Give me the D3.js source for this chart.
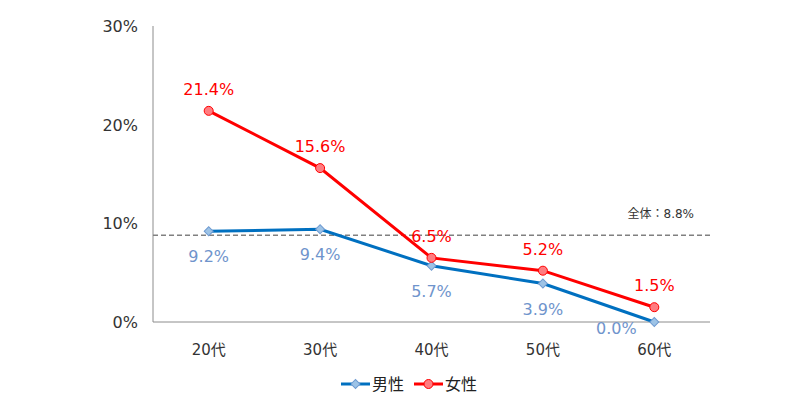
<!DOCTYPE html>
<html>
<head>
<meta charset="utf-8">
<script src="https://cdn.jsdelivr.net/npm/d3@7"></script>
<style>
  body { margin: 0; background: #fff; }
  text { font-family: "DejaVu Sans", "Noto Sans CJK JP", sans-serif; }
</style>
</head>
<body>
<svg id="chart" width="810" height="400"></svg>
<script>
const width = 810, height = 400;

const ages = ["20代", "30代", "40代", "50代", "60代"];
const male = [9.2, 9.4, 5.7, 3.9, 0.0];
const female = [21.4, 15.6, 6.5, 5.2, 1.5];
const overall = 8.8;
const yTicks = [0, 10, 20, 30];

const svg = d3.select("#chart");

const x = d3.scaleBand().domain(ages).range([153, 710]);
const y = d3.scaleLinear().domain([0, 30]).range([322, 26]);
const cx = d => x(d) + x.bandwidth() / 2;

// axes
svg.append("line")
  .attr("x1", 153).attr("x2", 153)
  .attr("y1", y(30)).attr("y2", y(0))
  .attr("stroke", "#8c8c8c").attr("stroke-width", 1);
svg.append("line")
  .attr("x1", 153).attr("x2", 710)
  .attr("y1", y(0)).attr("y2", y(0))
  .attr("stroke", "#8c8c8c").attr("stroke-width", 1);

svg.selectAll(".ytick")
  .data(yTicks)
  .enter().append("text")
  .attr("x", 138)
  .attr("y", d => y(d) + 6)
  .attr("text-anchor", "end")
  .attr("font-size", 16)
  .attr("fill", "#333")
  .text(d => d + "%");

svg.selectAll(".xtick")
  .data(ages)
  .enter().append("text")
  .attr("x", d => cx(d))
  .attr("y", 355)
  .attr("text-anchor", "middle")
  .attr("font-size", 15)
  .attr("fill", "#333")
  .text(d => d);

// overall line
svg.append("line")
  .attr("x1", 153).attr("x2", 710)
  .attr("y1", y(overall)).attr("y2", y(overall))
  .attr("stroke", "#808080").attr("stroke-width", 1.5)
  .attr("stroke-dasharray", "5,3");
svg.append("text")
  .attr("x", 694).attr("y", y(overall) - 17)
  .attr("text-anchor", "end")
  .attr("font-size", 12)
  .attr("fill", "#333")
  .text("全体：" + overall.toFixed(1) + "%");

const line = d3.line()
  .x((d, i) => cx(ages[i]))
  .y(d => y(d));

const diamond = d3.symbol().type(d3.symbolSquare).size(40);

// male series
svg.append("path")
  .datum(male)
  .attr("fill", "none")
  .attr("stroke", "#0070c0")
  .attr("stroke-width", 3)
  .attr("d", line);
svg.selectAll(".mpt")
  .data(male)
  .enter().append("path")
  .attr("d", diamond)
  .attr("transform", (d, i) => `translate(${cx(ages[i])},${y(d)}) rotate(45)`)
  .attr("fill", "#9dc3e6")
  .attr("stroke", "#6f9bd1")
  .attr("stroke-width", 1);

// female series
svg.append("path")
  .datum(female)
  .attr("fill", "none")
  .attr("stroke", "#ff0000")
  .attr("stroke-width", 3)
  .attr("d", line);
svg.selectAll(".fpt")
  .data(female)
  .enter().append("circle")
  .attr("cx", (d, i) => cx(ages[i]))
  .attr("cy", d => y(d))
  .attr("r", 4.5)
  .attr("fill", "#ff7c80")
  .attr("stroke", "#ff0000")
  .attr("stroke-width", 1);

// labels
svg.selectAll(".flab")
  .data(female)
  .enter().append("text")
  .attr("x", (d, i) => cx(ages[i]))
  .attr("y", d => y(d) - 16)
  .attr("text-anchor", "middle")
  .attr("font-size", 16)
  .attr("fill", "#ff0000")
  .text(d => d.toFixed(1) + "%");

svg.selectAll(".mlab")
  .data(male)
  .enter().append("text")
  .attr("x", (d, i) => i === 4 ? cx(ages[i]) - 38 : cx(ages[i]))
  .attr("y", (d, i) => i === 4 ? y(d) + 12 : y(d) + 31)
  .attr("text-anchor", "middle")
  .attr("font-size", 16)
  .attr("fill", "#6f94cc")
  .text(d => d.toFixed(1) + "%");

// legend
const legend = svg.append("g");
const items = [
  { name: "男性", x: 341, color: "#0070c0", type: "diamond" },
  { name: "女性", x: 414, color: "#ff0000", type: "circle" }
];
items.forEach(it => {
  legend.append("line")
    .attr("x1", it.x).attr("x2", it.x + 29)
    .attr("y1", 384).attr("y2", 384)
    .attr("stroke", it.color).attr("stroke-width", 3);
  if (it.type === "diamond") {
    legend.append("path")
      .attr("d", diamond)
      .attr("transform", `translate(${it.x + 14.5},384) rotate(45)`)
      .attr("fill", "#9dc3e6").attr("stroke", "#6f9bd1");
  } else {
    legend.append("circle")
      .attr("cx", it.x + 14.5).attr("cy", 384).attr("r", 4.5)
      .attr("fill", "#ff7c80").attr("stroke", "#ff0000");
  }
  legend.append("text")
    .attr("x", it.x + 31).attr("y", 390)
    .attr("font-size", 16)
    .attr("fill", "#222")
    .text(it.name);
});
</script>
</body>
</html>
